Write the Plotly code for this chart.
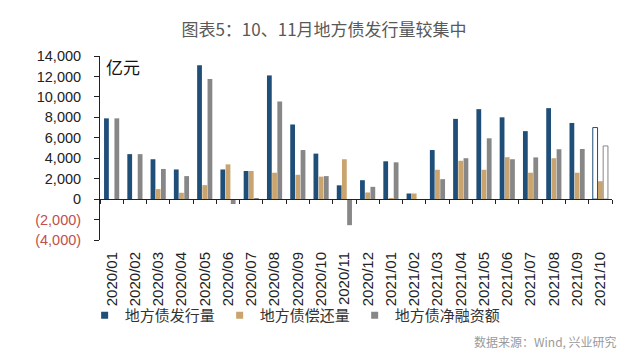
import plotly.graph_objects as go

months = ["2020/01", "2020/02", "2020/03", "2020/04", "2020/05", "2020/06", "2020/07",
          "2020/08", "2020/09", "2020/10", "2020/11", "2020/12", "2021/01", "2021/02",
          "2021/03", "2021/04", "2021/05", "2021/06", "2021/07", "2021/08", "2021/09", "2021/10"]
issuance = [7900, 4400, 3900, 2900, 13100, 2900, 2750, 12100, 7300, 4450, 1350, 1850,
            3700, 550, 4800, 7850, 8800, 8000, 6650, 8900, 7450, 7000]
repayment = [0, 0, 980, 620, 1370, 3400, 2750, 2580, 2380, 2200, 3900, 650,
             100, 550, 2870, 3750, 2870, 4100, 2580, 4000, 2580, 1750]
net_financing = [7900, 4400, 2950, 2250, 11750, -480, 20, 9550, 4800, 2250, -2550, 1200,
                 3600, -30, 1950, 4000, 5950, 3900, 4080, 4880, 4900, 5200]

series_names = ["地方债发行量", "地方债偿还量", "地方债净融资额"]
y_ticks = [-4000, -2000, 0, 2000, 4000, 6000, 8000, 10000, 12000, 14000]
title_text = "图表5：10、11月地方债发行量较集中"
unit_text = "亿元"
source_text = "数据来源：Wind, 兴业研究"

BLUE = "#1F4E79"
TAN = "#C9A46E"
GRAY = "#878787"
NEG_RED = "#C0504D"

n = len(months)
last = n - 1  # estimated month shown with hollow bars

# the page body has an 8px default margin, so the figure is sized 632x353
W, H = 632, 353


def tick_label(v):
    if v < 0:
        return f'<span style="color:{NEG_RED}">({abs(v):,})</span>'
    return f"{v:,}"


fig = go.Figure()

fig.add_trace(go.Bar(
    x=months, y=issuance, name=series_names[0], showlegend=False, legendgroup="a",
    marker=dict(color=[BLUE if i != last else "white" for i in range(n)],
                line=dict(color=BLUE, width=[0 if i != last else 1 for i in range(n)])),
))
fig.add_trace(go.Bar(
    x=months, y=repayment, name=series_names[1], showlegend=False, legendgroup="b",
    marker=dict(color=TAN, line=dict(width=0)),
))
fig.add_trace(go.Bar(
    x=months, y=net_financing, name=series_names[2], showlegend=False, legendgroup="c",
    marker=dict(color=[GRAY if i != last else "white" for i in range(n)],
                line=dict(color=GRAY, width=[0 if i != last else 1 for i in range(n)])),
))

for name, col, grp in zip(series_names, [BLUE, TAN, GRAY], ["a", "b", "c"]):
    fig.add_trace(go.Scatter(
        x=[None], y=[None], mode="markers", name=name, legendgroup=grp,
        marker=dict(symbol="square", size=7, color=col), hoverinfo="skip",
    ))

fig.add_trace(go.Scatter(x=months, y=[None] * n, xaxis="x2", mode="markers",
                         showlegend=False, hoverinfo="skip"))

fig.update_layout(
    width=W, height=H,
    margin=dict(l=92, r=28, t=47.5, b=121),
    paper_bgcolor="white", plot_bgcolor="white",
    barmode="group", bargap=0.33, bargroupgap=0.08,
    title=dict(text=title_text, x=0.5, xanchor="center", xref="container",
               y=1 - 22 / H, yanchor="middle", yref="container",
               font=dict(family="Noto Sans CJK SC", size=17, color="#595959")),
    font=dict(family="Liberation Sans, Arial", color="#222222"),
    xaxis=dict(type="category", categoryorder="array", categoryarray=months,
               range=[-0.5, n - 0.5], showline=False, ticks="", showgrid=False,
               tickangle=-90, tickfont=dict(family="Liberation Sans, Arial", size=15, color="#222222"),
               ticklabelstandoff=8),
    xaxis2=dict(type="category", categoryorder="array", categoryarray=months,
                overlaying="x", anchor="free", position=4000 / 18000,
                range=[-0.5, n - 0.5], showline=True, linecolor="#222222", linewidth=1,
                ticks="outside", ticklen=4, tickcolor="#222222", tickson="boundaries",
                showticklabels=False, showgrid=False, zeroline=False),
    yaxis=dict(range=[-4000, 14000], tickvals=y_ticks, ticktext=[tick_label(v) for v in y_ticks],
               showline=True, linecolor="#222222", linewidth=1, ticks="outside", ticklen=5,
               tickcolor="#222222", showgrid=False, zeroline=False,
               tickfont=dict(family="Liberation Sans, Arial", size=14.5, color="#222222"),
               ticklabelstandoff=10),
    legend=dict(orientation="h", x=-0.03, xanchor="left", y=-0.41, yanchor="middle",
                font=dict(family="Noto Sans CJK SC", size=15, color="#333333"),
                itemwidth=30, bgcolor="rgba(0,0,0,0)"),
    annotations=[
        dict(text=unit_text, xref="paper", yref="paper", x=0.008, y=0.943,
             xanchor="left", yanchor="middle", showarrow=False,
             font=dict(family="Noto Sans CJK SC", size=17, color="#111111")),
        dict(text=source_text, xref="paper", yref="paper", x=(619 - 100) / 512, y=-(342 - 240) / 184.5,
             xanchor="right", yanchor="middle", showarrow=False,
             font=dict(family="Noto Sans CJK SC", size=12, color="#9A9A9A")),
    ],
)

fig.write_html("out.html")
